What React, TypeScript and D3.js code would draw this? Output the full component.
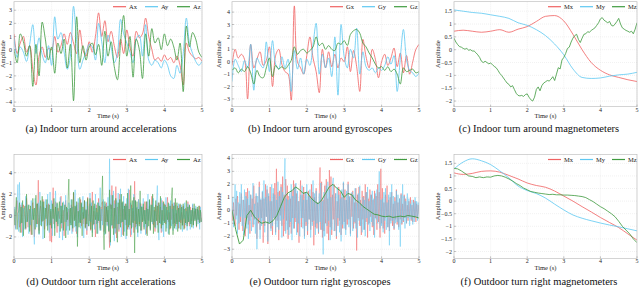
import React from 'react';
import * as d3 from 'd3';

const W = 640;
const H = 290;
const RED = '#f06262';
const BLUE = '#5ec8f2';
const GREEN = '#3f9b3f';
const SERIF = '"Liberation Serif", "Times New Roman", serif';

// (a) indoor turn around, accelerations (t = 0..5 s)
const accInX = [1.2, -0.3, 0.5, 1.0, -0.2, 0.3, -1.5, -2.7, -0.5, 0.2, -0.6, 0.1, 0.0, 1.0, -0.2, 0.3, 1.2, 0.4, 1.3, 0.5, -0.3, 1.5, 0.0, -0.5, 0.6, -0.2, 1.0, 2.8, 1.0, 2.2, 0.6, 1.4, 0.3, -0.6, 0.8, -0.3, 1.5, 0.2, -0.5, 1.4, 0.9, 1.2, 2.4, 1.0, 0.0, -0.8, -0.6, -0.9, -0.4, -0.8, -0.6, -1.0, -0.5, -1.2, -2.7, 0.5, -0.2, -0.5, -0.7, -0.6, -0.9];
const accInY = [0.9, -0.6, 0.2, -0.2, -0.9, 0.4, 1.9, -0.3, 0.9, -0.4, -1.0, 0.3, -1.2, 2.5, 0.8, 1.3, -0.2, -1.5, -0.5, 3.3, 0.6, -1.5, -0.8, -0.2, 0.4, 0.2, -0.8, 2.0, 0.6, -1.0, 1.1, 0.2, -1.0, -0.3, 2.3, 1.2, 0.5, -0.2, -1.0, 0.8, 1.1, -0.5, 1.9, -0.8, -1.2, -0.8, -1.0, -1.4, -0.8, -1.2, -2.0, -2.2, -1.2, -1.8, -0.3, 2.4, 0.5, -0.3, -0.9, -1.2, -0.9];
const accInZ = [0.0, -1.0, 1.2, 0.6, -0.5, 0.3, -2.8, 0.4, -2.0, 2.1, 0.8, -0.8, 0.2, -1.8, 0.5, -0.3, 0.8, -1.4, 0.4, -3.9, 2.5, -1.0, 0.3, -0.8, 0.2, 0.5, -0.4, 0.4, -1.2, 1.4, -0.5, 0.6, -1.3, -2.3, 0.5, 2.6, -0.5, 1.0, -2.1, 0.8, 0.0, -2.2, 1.2, -0.5, 1.6, 0.5, 0.9, 0.0, 1.2, 0.3, 0.8, 0.2, -0.8, 0.5, -3.2, 1.8, 0.2, 1.3, 0.8, -0.2, -0.6];

// (b) indoor turn around, gyroscopes
const gyrInX = [-0.3, 1.0, 0.3, 0.6, 0.2, -3.0, 1.4, -0.5, 0.2, 0.8, -0.3, 0.1, 1.2, -2.0, 0.5, 1.0, -0.2, -0.8, -1.0, -3.1, 4.5, 0.0, -0.5, -1.0, 0.5, 2.0, 0.3, -0.8, -2.5, 1.0, -0.5, 0.8, -0.4, 0.6, -0.5, 0.3, 0.0, 1.2, -0.8, 0.9, -0.4, -2.4, 1.8, 0.4, -0.5, 1.0, 0.2, -1.3, 0.0, 0.6, -0.3, 0.3, 1.1, -0.4, 0.7, -0.9, 0.5, -1.0, 0.0, 1.0, 1.4];
const gyrInY = [-1.6, 0.2, -0.3, -0.8, 0.1, -0.5, 1.4, -2.3, 0.3, -0.2, -0.5, 1.6, -0.8, 1.7, -0.2, -0.6, 0.4, -0.5, 0.2, -2.4, 0.9, -0.6, 0.3, -1.0, 0.2, -0.3, 1.4, 3.1, -1.0, 0.6, -0.5, 0.3, -1.2, 2.0, -2.7, 3.0, 0.4, -0.5, 1.0, 0.3, 2.7, -1.0, 0.8, -0.4, -0.7, -0.5, -0.9, -0.5, -0.7, -0.3, 0.4, -0.2, 0.5, -2.4, 0.3, 2.6, 0.2, -0.7, -0.9, -1.2, -0.9];
const gyrInZ = [-0.7, -0.5, -0.9, -0.6, -0.8, -0.4, -0.9, -1.8, -0.7, -1.2, -1.3, -0.5, 0.3, -1.2, -0.3, -0.6, -0.4, -0.6, -0.3, 0.1, 1.2, 0.6, 0.9, 1.0, 0.7, 0.9, 1.2, 2.0, 1.3, 1.5, 1.0, 1.3, 1.0, 0.9, 1.5, 1.4, 1.7, 1.3, 2.2, 2.5, 2.6, 2.3, 1.5, 1.2, 0.7, 0.3, -0.2, -0.5, -0.4, -0.7, -0.4, -0.8, -0.6, -1.0, -1.8, -0.5, -0.8, -0.7, -0.6, -0.9, -0.8];

// (c) indoor turn around, magnetometers
const magInX = [0.72, 0.76, 0.72, 0.68, 0.72, 0.78, 0.68, 0.8, 0.9, 1.1, 1.3, 1.33, 1.12, 0.6, 0.0, -0.5, -0.8, -0.98, -1.08, -1.17, -1.24];
const magInY = [1.55, 1.5, 1.45, 1.42, 1.36, 1.3, 1.22, 1.05, 0.95, 0.78, 0.55, 0.22, -0.2, -0.75, -1.08, -1.12, -1.1, -1.03, -0.98, -0.95, -0.88];
const magInZ = [0.45, 0.3, 0.2, 0.12, 0.1, 0.05, 0.02, 0.05, -0.02, 0.0, -0.05, -0.05, -0.12, -0.2, -0.3, -0.45, -0.5, -0.45, -0.5, -0.55, -0.52, -0.58, -0.65, -0.7, -0.8, -0.92, -1.0, -1.1, -1.2, -1.3, -1.35, -1.45, -1.4, -1.55, -1.7, -1.78, -1.8, -1.78, -1.82, -1.75, -1.72, -1.85, -1.95, -2.0, -1.85, -1.55, -1.45, -1.6, -1.4, -1.3, -1.25, -1.2, -1.22, -1.15, -1.05, -1.2, -0.95, -0.7, -0.75, -0.4, -0.3, -0.15, 0.05, 0.1, 0.3, 0.45, 0.55, 0.6, 0.4, 0.28, 0.45, 0.6, 0.62, 0.7, 0.68, 0.75, 0.8, 0.85, 0.95, 1.05, 1.2, 1.25, 1.15, 1.1, 1.05, 1.1, 0.95, 0.92, 1.0, 1.1, 1.22, 1.0, 0.85, 0.8, 0.75, 0.72, 0.68, 0.72, 0.62, 0.8, 1.05];

// (d) outdoor turn right, accelerations (12 samples per 0.25 s)
const accOutX = [
  0.8, -0.4, -1.2, 0.6, 1.4, 0.2, -0.5, -1.1, 0.3, 1.0, -1.6, -0.2,
  1.0, 0.4, -0.4, -1.3, 1.6, 0.5, -1.1, 0.2, 0.6, -0.7, -1.8, 0.9,
  1.2, -0.3, -2.0, -0.6, 0.4, 1.1, -0.8, 3.3, -1.4, 0.2, 0.9, -0.3,
  -0.6, 1.5, 0.3, -1.3, -0.2, 0.2, 1.0, -0.9, 1.1, -0.5, -2.4, 0.4,
  -2.5, 0.7, 2.6, -0.8, 0.1, 1.3, -0.4, -1.6, 0.7, 0.2, -0.3, 1.0,
  1.8, -1.2, -0.1, 0.5, -1.9, 0.9, 1.4, -0.6, 0.3, -1.0, 0.6, -0.4,
  -0.7, 1.0, 0.4, -1.5, 2.1, -0.3, -0.4, 0.8, -1.7, 0.5, 1.2, -0.2,
  -0.6, 1.5, -1.0, 0.1, 0.3, -0.8, 1.4, -1.1, 0.6, -1.8, 1.7, 0.2,
  -0.5, 1.1, -1.4, 0.4, 2.2, -0.9, 0.4, -0.2, -2.0, 1.0, 0.3, -0.7,
  1.6, -0.4, -1.2, 0.8, -0.5, 1.3, 0.2, -1.5, 0.9, -0.6, 1.2, -0.9,
  0.5, -0.8, -3.0, 1.1, 0.6, 2.8, -1.2, -0.3, 1.4, -1.7, 2.7, -2.1,
  0.8, -0.2, -1.5, 2.0, 0.4, -0.7, 1.2, -1.8, 0.6, -0.4, 1.1, -0.9,
  0.9, -1.3, 0.3, 2.4, -0.5, -2.0, 1.0, -0.6, 0.4, -1.6, 3.2, -1.1,
  0.7, -1.0, 0.2, 1.5, -0.8, 0.6, 1.1, -1.4, -0.2, 0.8, -0.5, 1.3,
  0.6, -1.7, 1.3, -0.4, 0.2, 0.9, -1.2, 0.5, 1.8, -0.6, -0.9, 0.5,
  -1.5, 1.0, 0.3, -0.9, 1.2, -0.2, -0.7, 0.8, -1.6, 1.4, 0.2, -0.5,
  1.1, -0.3, -0.8, 0.6, 1.7, -0.6, 0.3, -1.3, 0.9, -0.4, 1.1, -0.8,
  0.4, 1.2, -1.0, 0.2, -0.6, 0.9, -1.2, 0.5, 1.0, -0.7, 0.3, -1.0,
  0.9, -0.4, -1.2, 0.7, 0.5, -0.8, 1.3, -0.3, -1.0, 0.8, 0.2, -0.5,
  1.0, -0.9, 0.4, -0.3, 0.7, -1.1, 0.6, 0.1, -0.6, 0.9, -0.4, -0.6,
  0.3,
];
const accOutY = [
  -0.5, 0.8, -1.3, 0.4, 1.1, 2.9, -1.5, 3.1, -0.8, 0.3, 1.2, -2.0,
  0.7, -0.2, -1.3, 1.8, -0.6, 0.4, 1.0, -1.7, 0.5, -0.9, 1.4, -0.4,
  0.6, -1.1, -2.7, 1.6, -0.3, -1.1, 0.5, 1.2, -1.8, 2.2, -0.9, 0.3,
  1.3, -2.2, 0.8, -0.4, 1.5, 0.1, -1.0, 2.0, -0.6, -1.6, 2.2, -0.7,
  1.4, -1.9, 0.6, 0.2, -1.2, 2.3, -0.5, 1.1, -0.8, 0.4, -2.1, 1.7,
  -0.8, 0.9, -2.3, 1.3, 0.3, -0.6, 1.9, -1.4, 0.7, -1.8, 1.2, 0.2,
  -0.9, 1.5, -1.7, 0.8, -0.3, -1.1, 2.4, -1.5, 1.0, -2.0, 1.6, -0.7,
  0.5, -1.2, 1.1, -0.4, 1.8, -2.1, 0.6, -0.2, 1.3, -1.4, 0.9, -0.5,
  -1.0, 2.1, -0.6, 1.2, -1.6, 0.4, 0.9, -1.3, 2.0, -0.8, 0.3, -1.7,
  1.2, -0.5, 2.6, -1.4, 0.6, -0.9, 1.5, -0.3, -1.8, 1.1, 0.4, -1.0,
  1.7, -1.4, 5.3, -2.8, 1.9, -1.0, 0.4, 2.3, -2.4, 1.1, -1.6, 1.4,
  -0.8, 2.1, -1.3, 0.5, 2.5, -2.0, 1.2, -0.6, 1.8, -1.5, 0.9, -2.2,
  1.6, -0.9, 2.5, -1.3, 0.4, 1.2, -1.8, 0.7, -1.1, 2.0, -0.5, 1.4,
  -1.3, 0.8, -2.0, 1.5, -0.6, 1.2, -1.7, 0.9, -0.4, 1.6, -1.1, 0.5,
  -1.8, 0.7, -1.1, 2.0, -0.5, 1.4, -1.3, 0.3, 1.0, -0.8, 1.6, -0.6,
  0.4, -1.2, 1.3, 2.8, -0.9, -2.3, 1.0, -0.8, 1.6, -1.5, 1.2, -2.0,
  0.9, -0.6, 1.7, -1.2, 0.5, -1.7, 1.1, -0.9, 1.4, -1.0, 0.6, -1.4,
  1.2, -0.7, 1.0, -1.3, 0.5, -0.8, 1.1, -1.2, 0.7, -0.4, 1.0, -1.5,
  0.8, -0.3, 1.2, -0.9, 0.4, -1.4, 1.1, -0.6, 0.9, -1.3, 0.5, -0.8,
  1.1, -1.2, 0.7, -0.4, 0.9, -1.0, 0.6, -0.8, 0.5, -1.3, 0.8, -0.6,
  -0.4,
];
const accOutZ = [
  0.6, -0.9, 0.4, 1.7, -1.3, 0.2, 0.4, 1.2, -1.6, 0.8, -0.7, 1.4,
  -1.9, 0.5, 0.9, -1.2, 2.0, -0.6, 0.3, 1.0, -1.5, 0.9, -0.4, -1.8,
  1.6, -0.4, 0.7, -1.3, 1.9, -0.8, 1.1, -0.2, -1.7, 0.6, 1.4, -1.0,
  1.8, -0.5, 1.3, -2.1, 0.7, -0.3, 1.5, -1.4, 0.4, 1.0, -0.9, 0.6,
  -1.2, 1.1, -0.3, 1.6, -1.9, 0.8, -0.6, 1.2, -1.0, 0.5, 1.3, -1.5,
  0.9, -0.7, 1.2, -1.4, 0.3, 1.0, -2.1, 0.8, -0.4, 1.5, 3.4, -1.4,
  0.7, -0.9, 1.5, -1.2, 2.2, -0.5, 0.9, -1.0, 1.3, -2.9, 0.4, -1.1,
  1.7, -0.7, 1.2, -1.9, 0.8, -0.3, 1.4, -1.2, 0.5, -0.8, 1.6, -1.0,
  -0.6, 1.6, -1.3, 0.9, -2.0, 1.4, -0.8, 1.1, -0.4, 0.7, -1.7, 1.2,
  -0.5, 0.9, -1.4, 0.6, 1.3, 3.7, -1.0, -3.2, 1.3, -1.7, 0.8, -0.6,
  0.9, -1.5, 2.4, -2.5, 1.0, -0.9, 1.9, -1.8, 0.7, -1.2, 1.6, -0.5,
  -2.5, 1.2, -0.8, 1.5, -1.1, 2.0, -0.6, 1.3, -1.9, 0.9, -0.4, 1.1,
  -1.9, 2.1, -1.1, 0.6, -0.9, 2.8, -1.2, 1.4, -0.7, 1.7, -3.5, 1.4,
  -0.8, 1.3, -1.6, 0.6, -1.0, 2.3, -1.4, 0.8, -0.6, 1.1, -1.3, 0.5,
  -0.8, 1.3, -1.9, 0.6, -1.0, 1.5, -1.4, 1.0, -0.6, 2.0, -1.7, 0.8,
  -1.1, 1.4, -0.5, 0.9, -1.6, 1.2, -0.7, 1.8, -1.2, 0.5, -0.9, 1.3,
  -0.7, 1.0, -1.5, 0.8, -0.4, 1.2, -1.8, 0.9, -1.2, 1.6, 2.6, -1.8,
  0.9, -1.2, 1.6, -0.8, 1.2, -1.5, 0.7, -0.6, 1.1, -1.3, 0.8, -0.9,
  1.1, -1.3, 0.6, -0.7, 1.4, -1.0, 0.8, -0.6, 1.0, -0.8, 0.5, -1.1,
  0.7, -0.9, 1.1, -0.5, 0.6, -1.0, 0.8, -0.4, 0.9, -0.7, 0.5, -0.6,
  -0.2,
];

// (e) outdoor turn right, gyroscopes
const gyrOutX = [
  0.3, -0.8, 0.6, -0.2, -1.2, 0.9, -0.4, 1.1, 0.2, -1.5, 0.5, -0.9,
  1.3, -0.3, -1.6, 0.8, 0.2, -2.0, 1.4, -0.6, 1.7, -1.1, 0.4, -1.8,
  1.2, -0.5, 0.9, -1.3, 1.9, -0.7, 0.3, 1.1, -2.2, 0.6, -1.0, 2.2,
  -1.5, 0.8, -0.6, 1.4, -2.5, 0.9, -1.2, 2.0, -0.5, 1.6, -2.6, 1.1,
  -0.9, 1.8, -1.4, 0.7, -1.9, 1.3, -0.6, 2.1, -1.7, 3.2, -0.8, 1.4,
  -2.3, 1.5, -0.4, 2.0, -1.2, 2.6, -2.0, 1.2, -1.6, 2.4, -0.8, 1.9,
  -2.2, 1.1, -1.3, 0.9, -1.8, 1.5, -0.6, 2.3, -1.4, 2.0, -0.9, 1.3,
  -1.7, 0.7, -2.5, 1.1, 2.3, -1.3, 1.2, -0.6, 1.8, -2.0, 1.4, -1.2,
  0.8, -1.9, 1.5, -0.7, 1.1, -1.5, 2.0, -0.9, 1.4, -2.7, 1.0, -1.3,
  1.7, -1.4, 0.6, -1.8, 1.2, 3.3, -1.5, 2.2, -2.1, 0.8, -1.6, 1.9,
  -1.0, 2.4, -1.8, 0.9, -2.3, 3.1, -1.3, 2.6, -1.9, 1.2, -0.7, 2.0,
  -1.6, 1.3, -2.2, 0.7, -1.2, 1.8, -0.8, 1.4, -1.9, 1.0, -1.4, 2.1,
  -0.9, 1.6, -1.5, 0.8, -1.1, 2.2, -0.7, 1.0, -1.8, 1.3, -0.5, 1.5,
  -1.4, 0.6, -1.0, 1.7, -3.1, 1.2, -0.6, 1.8, -1.2, 0.8, -1.9, 1.5,
  -0.7, 1.1, -1.5, 2.0, -0.9, 1.4, -2.1, 0.9, -1.0, 1.6, -0.5, 1.2,
  -1.3, 0.8, -1.9, 1.5, -0.6, 1.1, -1.5, 2.0, -0.9, 1.4, -2.1, 3.2,
  -1.0, 1.7, -1.4, 0.6, -1.8, 1.2, -0.5, 1.9, -1.3, 0.8, -1.6, 1.0,
  -0.8, 1.4, -1.2, 0.5, -1.5, 1.0, -0.7, 1.6, -1.1, 0.6, -1.3, 0.9,
  -0.7, 1.3, -1.1, 0.5, -0.9, 1.2, -0.6, 0.9, -1.0, 0.4, -0.8, 0.7,
  -0.5, 1.0, -0.8, 0.4, -0.9, 0.8, -0.6, 0.7, -0.9, 0.5, -0.6, 0.4,
  -0.3,
];
const gyrOutY = [
  -0.4, 1.0, -1.3, 0.5, 2.0, -0.7, 1.5, -1.8, 0.6, -1.0, 1.4, -0.5,
  2.0, -1.2, 0.8, -1.9, 1.6, -0.6, 1.1, -1.4, 0.9, -2.2, 1.5, -0.8,
  1.2, -1.6, 0.7, 2.1, -1.1, 0.5, -1.8, 1.3, -3.0, 1.1, -0.6, 1.8,
  -2.2, 0.9, -1.2, 1.5, -0.8, 2.3, -1.7, 1.0, -0.5, 1.9, -2.4, 1.3,
  -1.0, 0.7, -1.6, 2.0, -1.2, 1.7, -0.6, 1.2, -1.9, 0.8, -1.3, 2.2,
  -1.5, 1.1, -0.8, 1.8, -2.1, 1.4, -0.7, 2.2, 4.0, -1.8, 0.9, -1.5,
  0.8, -1.9, 1.3, -0.9, 2.0, -2.3, 1.1, -1.4, 1.8, -0.6, 2.1, -1.9,
  1.5, -1.0, 0.7, -2.0, 1.2, -0.6, 1.9, -1.4, 0.8, -2.2, 1.4, -0.9,
  2.0, -1.6, 1.1, -0.7, 1.6, -2.1, 0.9, -1.2, 2.3, -0.8, 1.3, -1.9,
  1.5, -1.0, 0.6, -1.7, 1.3, -0.9, 2.1, -1.5, 0.7, -3.4, 1.4, -2.0,
  0.7, 1.9, -1.2, 2.2, -0.8, 1.6, -2.3, 1.0, -1.5, 2.1, 2.5, -1.6,
  -0.9, 1.3, -2.0, 1.8, -0.6, 1.2, -1.7, 0.9, -2.4, 1.6, -1.1, 2.2,
  -1.4, 0.8, -1.9, 1.5, -0.7, 2.0, -1.3, 1.1, -2.0, 0.6, 1.4, -1.6,
  1.2, -0.9, 1.7, -1.4, 0.6, -2.1, 1.3, -0.8, 1.9, -1.2, 0.5, -1.7,
  1.0, -1.5, 0.8, -2.0, 1.4, -0.6, 1.8, -1.1, 0.7, -1.6, 1.2, -0.9,
  1.5, -1.2, 0.9, -2.1, 1.3, -0.7, 1.6, -1.0, 0.6, 3.0, -1.4, 0.8,
  -1.2, 0.9, -1.7, 1.4, -0.8, 1.7, -1.5, 0.6, -1.3, 1.2, -2.7, 1.4,
  -1.0, 2.0, -0.8, 1.1, -1.4, 0.7, -1.0, 1.5, -0.9, 1.2, -1.5, 0.9,
  -2.8, 1.2, -1.0, 2.0, -0.8, 1.1, -1.4, 0.7, -1.0, 1.3, -0.6, 0.9,
  -1.2, 0.5, -0.7, 0.8, -1.1, 0.6, -0.9, 1.0, -0.5, 0.7, -0.8, 0.6,
  -0.5,
];
const gyrOutZ = [0.0, -1.5, -2.6, -2.3, -0.4, 0.0, -0.5, -0.8, -1.0, -0.9, -1.0, -0.8, -0.4, 0.3, 1.0, 1.35, 1.5, 1.8, 1.6, 1.3, 1.4, 1.0, 0.7, 0.5, 0.8, 1.3, 1.8, 2.0, 1.7, 1.5, 1.0, 1.3, 1.2, 0.8, 0.6, 0.3, 0.1, -0.1, -0.3, -0.35, -0.45, -0.5, -0.45, -0.55, -0.5, -0.45, -0.5, -0.4, -0.45, -0.5, -0.6];

// (f) outdoor turn right, magnetometers
const magOutX = [1.12, 1.06, 1.1, 1.18, 1.2, 1.15, 1.02, 0.88, 0.72, 0.62, 0.55, 0.4, 0.2, 0.0, -0.22, -0.43, -0.65, -0.85, -1.05, -1.3, -1.55];
const magOutY = [1.28, 1.55, 1.68, 1.6, 1.45, 1.2, 0.92, 0.6, 0.42, 0.3, 0.12, -0.12, -0.35, -0.55, -0.68, -0.78, -0.87, -0.95, -1.02, -1.1, -1.18];
const magOutZ = [1.3, 1.28, 1.2, 1.1, 1.0, 0.98, 0.93, 0.96, 0.93, 0.96, 0.95, 1.0, 1.02, 1.0, 0.95, 0.88, 0.8, 0.7, 0.62, 0.52, 0.45, 0.38, 0.35, 0.32, 0.3, 0.28, 0.26, 0.27, 0.25, 0.25, 0.24, 0.24, 0.23, 0.22, 0.2, 0.18, 0.14, 0.06, -0.02, -0.12, -0.22, -0.3, -0.4, -0.5, -0.62, -0.8, -1.0, -1.15, -1.3, -1.5, -1.65];

const xTicks = [0, 1, 2, 3, 4, 5];
const intTicks = (a: number, b: number) => d3.range(a, b + 1);
const magTicks = [-2, -1.5, -1, -0.5, 0, 0.5, 1, 1.5];

type Series = { name: string; color: string; values: number[]; curve: d3.CurveFactory; width: number };

type PanelProps = {
  id: string;
  left: number;
  right: number;
  top: number;
  bottom: number;
  yDomain: [number, number];
  yTicks: number[];
  ylabelX: number;
  series: Series[];
  caption: string;
  captionX: number;
  captionY: number;
};

const fmt = d3.format('');
const txt = { fontFamily: SERIF };

function Panel(p: PanelProps) {
  const x = d3.scaleLinear().domain([0, 5]).range([p.left, p.right]);
  const y = d3.scaleLinear().domain(p.yDomain).range([p.bottom, p.top]);
  const clip = `clip-${p.id}`;
  const lx = p.right - 89;
  const ly = p.top + 5;
  return (
    <g>
      <defs>
        <clipPath id={clip}>
          <rect x={p.left} y={p.top} width={p.right - p.left} height={p.bottom - p.top} />
        </clipPath>
      </defs>
      {xTicks.map(t => (
        <line key={'gx' + t} x1={x(t)} x2={x(t)} y1={p.top} y2={p.bottom} stroke="#dcdcdc" strokeWidth={0.4} strokeDasharray="1,1" />
      ))}
      {p.yTicks.map(t => (
        <line key={'gy' + t} x1={p.left} x2={p.right} y1={y(t)} y2={y(t)} stroke="#dcdcdc" strokeWidth={0.4} strokeDasharray="1,1" />
      ))}
      <g clipPath={`url(#${clip})`}>
        {p.series.map(s => {
          const line = d3
            .line<number>()
            .x((_, i) => x((5 * i) / (s.values.length - 1)))
            .y(v => y(v))
            .curve(s.curve);
          return (
            <path key={s.name} d={line(s.values) || ''} fill="none" stroke={s.color} strokeWidth={s.width} strokeOpacity={0.9} strokeLinejoin="round" />
          );
        })}
      </g>
      <rect x={p.left} y={p.top} width={p.right - p.left} height={p.bottom - p.top} fill="none" stroke="#b8b8b8" strokeWidth={0.6} />
      {xTicks.map(t => (
        <g key={'tx' + t}>
          <line x1={x(t)} x2={x(t)} y1={p.bottom} y2={p.bottom - 2} stroke="#888" strokeWidth={0.5} />
          <text x={x(t)} y={p.bottom + 5} fontSize={6} textAnchor="middle" style={txt} fill="#222">
            {fmt(t)}
          </text>
        </g>
      ))}
      {p.yTicks.map(t => (
        <g key={'ty' + t}>
          <line x1={p.left} x2={p.left + 2} y1={y(t)} y2={y(t)} stroke="#888" strokeWidth={0.5} />
          <text x={p.left - 2} y={y(t)} dy="0.35em" fontSize={6} textAnchor="end" style={txt} fill="#222">
            {fmt(t)}
          </text>
        </g>
      ))}
      <text x={(p.left + p.right) / 2} y={p.bottom + 11.5} fontSize={6.5} textAnchor="middle" style={txt} fill="#222">
        Time (s)
      </text>
      <text
        transform={`translate(${p.ylabelX},${(p.top + p.bottom) / 2}) rotate(-90)`}
        fontSize={6.5}
        textAnchor="middle"
        style={txt}
        fill="#222"
      >
        Amplitude
      </text>
      {p.series.map((s, i) => (
        <g key={'lg' + s.name}>
          <line x1={lx + i * 32} x2={lx + i * 32 + 13} y1={ly} y2={ly} stroke={s.color} strokeWidth={1.2} />
          <text x={lx + i * 32 + 16} y={ly} dy="0.33em" fontSize={6.5} style={txt} fill="#222">
            {s.name}
          </text>
        </g>
      ))}
      <text x={p.captionX} y={p.captionY} fontSize={10.5} textAnchor="middle" style={txt} fill="#111">
        {p.caption}
      </text>
    </g>
  );
}

const smooth = d3.curveCatmullRom.alpha(0.5);

export default function App() {
  const top = { top: 1.7, bottom: 106.7, captionY: 132 };
  const bot = { top: 154.5, bottom: 258.3, captionY: 285 };
  const cols = [
    { left: 14, right: 202, ylabelX: 5, captionX: 101 },
    { left: 232, right: 419, ylabelX: 221, captionX: 320 },
    { left: 454, right: 637, ylabelX: 440, captionX: 539 },
  ];
  return (
    <svg width={W} height={H} style={{ position: 'absolute', left: 0, top: 0, background: '#fff' }}>
      <Panel
        id="a" {...cols[0]} {...top}
        yDomain={[-4.35, 3.65]} yTicks={intTicks(-4, 3)}
        series={[
          { name: 'Ax', color: RED, values: accInX, curve: smooth, width: 0.9 },
          { name: 'Ay', color: BLUE, values: accInY, curve: smooth, width: 0.9 },
          { name: 'Az', color: GREEN, values: accInZ, curve: smooth, width: 0.9 },
        ]}
        caption="(a) Indoor turn around accelerations"
      />
      <Panel
        id="b" {...cols[1]} {...top}
        yDomain={[-3.63, 4.84]} yTicks={intTicks(-3, 4)}
        series={[
          { name: 'Gx', color: RED, values: gyrInX, curve: smooth, width: 0.9 },
          { name: 'Gy', color: BLUE, values: gyrInY, curve: smooth, width: 0.9 },
          { name: 'Gz', color: GREEN, values: gyrInZ, curve: smooth, width: 0.9 },
        ]}
        caption="(b) Indoor turn around gyroscopes"
      />
      <Panel
        id="c" {...cols[2]} {...top}
        yDomain={[-2.22, 1.87]} yTicks={magTicks}
        series={[
          { name: 'Mx', color: RED, values: magInX, curve: d3.curveMonotoneX, width: 0.9 },
          { name: 'My', color: BLUE, values: magInY, curve: d3.curveMonotoneX, width: 0.9 },
          { name: 'Mz', color: GREEN, values: magInZ, curve: d3.curveLinear, width: 0.9 },
        ]}
        caption="(c) Indoor turn around magnetometers"
      />
      <Panel
        id="d" {...cols[0]} {...bot}
        yDomain={[-4, 5.7]} yTicks={[-2, 0, 2, 4]}
        series={[
          { name: 'Ax', color: RED, values: accOutX, curve: d3.curveLinear, width: 0.55 },
          { name: 'Ay', color: BLUE, values: accOutY, curve: d3.curveLinear, width: 0.55 },
          { name: 'Az', color: GREEN, values: accOutZ, curve: d3.curveLinear, width: 0.55 },
        ]}
        caption="(d) Outdoor turn right accelerations"
      />
      <Panel
        id="e" {...cols[1]} {...bot}
        yDomain={[-3.7, 4.3]} yTicks={intTicks(-3, 4)}
        series={[
          { name: 'Gx', color: RED, values: gyrOutX, curve: d3.curveLinear, width: 0.55 },
          { name: 'Gy', color: BLUE, values: gyrOutY, curve: d3.curveLinear, width: 0.55 },
          { name: 'Gz', color: GREEN, values: gyrOutZ, curve: d3.curveLinear, width: 1 },
        ]}
        caption="(e) Outdoor turn right gyroscopes"
      />
      <Panel
        id="f" {...cols[2]} {...bot}
        yDomain={[-2.27, 1.85]} yTicks={magTicks}
        series={[
          { name: 'Mx', color: RED, values: magOutX, curve: d3.curveMonotoneX, width: 0.9 },
          { name: 'My', color: BLUE, values: magOutY, curve: d3.curveMonotoneX, width: 0.9 },
          { name: 'Mz', color: GREEN, values: magOutZ, curve: d3.curveLinear, width: 0.9 },
        ]}
        caption="(f) Outdoor turn right magnetometers"
      />
    </svg>
  );
}
